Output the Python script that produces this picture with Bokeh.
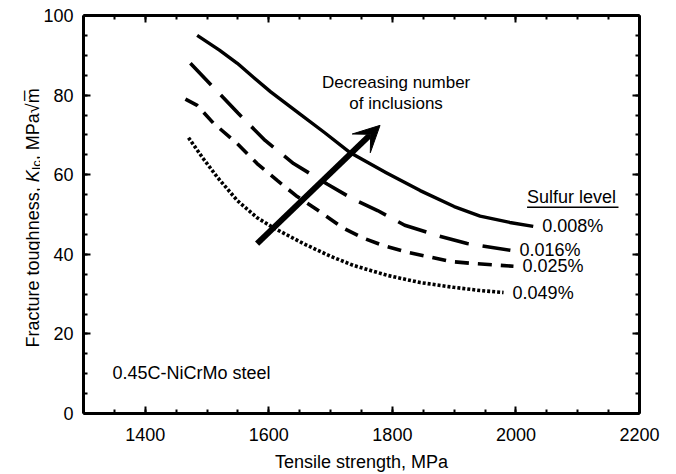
from bokeh.plotting import figure
from bokeh.layouts import row
from bokeh.models import (Range1d, LinearAxis, SingleIntervalTicker, Label, Arrow,
                          VeeHead, CustomJSTickFormatter)
from bokeh.core.properties import value
from bokeh.embed import file_html
from bokeh.resources import INLINE

FONT = "Liberation Sans"

# Fracture toughness vs tensile strength for four sulfur levels
sulfur_levels = ["0.008%", "0.016%", "0.025%", "0.049%"]

ts_008 = [1484, 1520, 1549, 1575, 1603, 1650, 1690, 1732, 1790, 1845, 1900, 1942, 1990, 2028]
kic_008 = [95.0, 91.3, 88.0, 84.5, 80.8, 75.3, 70.6, 65.5, 60.5, 56.0, 52.0, 49.6, 48.0, 47.0]

ts_016 = [1473, 1510, 1550, 1594, 1640, 1695, 1735, 1776, 1820, 1873, 1921, 1991]
kic_016 = [88.0, 82.0, 75.5, 68.6, 62.8, 57.6, 54.0, 51.0, 47.3, 44.7, 42.7, 41.0]

ts_025 = [1465, 1484, 1510, 1549, 1581, 1614, 1646, 1680, 1719, 1751, 1785, 1824, 1858, 1894, 1930, 1996]
kic_025 = [79.0, 77.4, 73.0, 67.8, 62.8, 58.5, 54.5, 51.0, 46.7, 44.2, 42.2, 40.5, 39.4, 38.2, 37.7, 37.0]

ts_049 = [1470, 1494, 1517, 1549, 1581, 1607, 1656, 1700, 1737, 1792, 1845, 1899, 1942, 1980]
kic_049 = [69.3, 64.0, 59.3, 53.5, 49.2, 46.7, 42.7, 39.5, 37.2, 34.7, 32.9, 31.7, 30.9, 30.4]

x_ticks_interval = 200
y_ticks_interval = 20

LABEL_W = 40  # strip holding the vertical axis title
BORDER_TOP, BORDER_BOTTOM = 15, 61

y_range = Range1d(0, 100)

p = figure(width=676 - LABEL_W, height=474, x_range=Range1d(1300, 2200), y_range=y_range,
           output_backend="svg", toolbar_location=None,
           min_border_left=83 - LABEL_W, min_border_right=37,
           min_border_top=BORDER_TOP, min_border_bottom=BORDER_BOTTOM)
p.outline_line_color = None
p.xgrid.visible = False
p.ygrid.visible = False
p.background_fill_color = "white"


def style_axis(ax, show_labels):
    ax.axis_line_width = 3
    ax.axis_line_color = "black"
    ax.major_tick_in = 7
    ax.major_tick_out = 0
    ax.minor_tick_in = 4
    ax.minor_tick_out = 0
    ax.major_tick_line_width = 2
    ax.minor_tick_line_width = 2
    ax.major_tick_line_color = "black"
    ax.minor_tick_line_color = "black"
    ax.major_label_text_font = FONT
    ax.major_label_text_font_size = "18px"
    ax.major_label_text_color = "black"
    if not show_labels:
        ax.formatter = CustomJSTickFormatter(code="return ''")


p.xaxis.ticker = SingleIntervalTicker(interval=x_ticks_interval, num_minor_ticks=4)
p.yaxis.ticker = SingleIntervalTicker(interval=y_ticks_interval, num_minor_ticks=4)
for ax in p.xaxis + p.yaxis:
    style_axis(ax, True)
p.xaxis.major_label_standoff = 14
p.yaxis.major_label_standoff = 10
p.xaxis.axis_label = "Tensile strength, MPa"
p.xaxis.axis_label_text_font = FONT
p.xaxis.axis_label_text_font_size = "18px"
p.xaxis.axis_label_text_font_style = "normal"
p.xaxis.axis_label_text_color = "black"
p.xaxis.axis_label_standoff = 8

top = LinearAxis(ticker=SingleIntervalTicker(interval=x_ticks_interval, num_minor_ticks=4))
right = LinearAxis(ticker=SingleIntervalTicker(interval=y_ticks_interval, num_minor_ticks=4))
style_axis(top, False)
style_axis(right, False)
p.add_layout(top, "above")
p.add_layout(right, "right")

# curves
p.line(ts_008, kic_008, line_width=3.4, line_color="black", line_join="round")
p.line(ts_016, kic_016, line_width=3.6, line_color="black", line_dash="30 14")
p.line(ts_025, kic_025, line_width=3.6, line_color="black", line_dash="14 9")
p.line(ts_049, kic_049, line_width=3.6, line_color="black", line_dash="3 2")

# end labels
end_x = [ts_008[-1], ts_016[-1], ts_025[-1], ts_049[-1]]
end_y = [kic_008[-1], kic_016[-1], kic_025[-1], kic_049[-1]]
p.text(x=end_x, y=end_y, text=sulfur_levels, x_offset=9, text_baseline="middle",
       text_align="left", text_font=value(FONT), text_font_size="18px", text_color="black")

# legend heading with underline
p.add_layout(Label(x=2018, y=54.3, text="Sulfur level", text_font=FONT, text_font_size="18px",
                   text_baseline="middle", text_align="left", text_color="black"))
p.segment(x0=[2018], y0=[51.8], x1=[2166], y1=[51.8], line_width=1.5, line_color="black")

# annotations
p.add_layout(Label(x=1806, y=83.2, text="Decreasing number", text_font=FONT, text_color="black",
                   text_font_size="17px", text_align="center", text_baseline="middle"))
p.add_layout(Label(x=1806, y=77.9, text="of inclusions", text_font=FONT, text_color="black",
                   text_font_size="17px", text_align="center", text_baseline="middle"))
p.add_layout(Label(x=1347, y=10.2, text="0.45C-NiCrMo steel", text_font=FONT, text_color="black",
                   text_font_size="18px", text_align="left", text_baseline="middle"))

p.add_layout(Arrow(end=VeeHead(size=26, fill_color="black", line_color="black"),
                   x_start=1581, y_start=42.7, x_end=1780, y_end=72.4,
                   line_width=6, line_color="black"))

# vertical axis title: Fracture toughness, K_Ic, MPa sqrt(m); the strip shares the y scale
lab = figure(width=LABEL_W, height=474, x_range=Range1d(0, LABEL_W), y_range=y_range,
             output_backend="svg", toolbar_location=None,
             min_border_left=0, min_border_right=0,
             min_border_top=BORDER_TOP, min_border_bottom=BORDER_BOTTOM,
             x_axis_location=None, y_axis_location=None)
lab.outline_line_color = None
lab.grid.visible = False

base_x = 32      # baseline position across the strip, px
base_y = 16.6    # start of the title on the K_Ic scale
pieces = [
    ("Fracture toughness, ", 0.0, 0, "18px", "normal"),
    ("K", 165.1, 0, "18px", "italic"),
    ("Ic", 177.1, 4, "13px", "normal"),
    (", MPa", 187.2, 0, "18px", "normal"),
    ("\u221a", 234.2, 0, "18px", "normal"),
    ("m\u0305", 244.1, 0, "18px", "normal"),
]
for txt, off, sub, size, style in pieces:
    lab.text(x=[base_x + sub], y=[base_y], text=[txt], angle=1.5707963, y_offset=-off,
             text_font=value(FONT), text_font_size=size, text_font_style=style,
             text_align="left", text_baseline="alphabetic", text_color="black")

layout = row(lab, p, spacing=0)
open("out.html", "w").write(file_html(layout, INLINE))
